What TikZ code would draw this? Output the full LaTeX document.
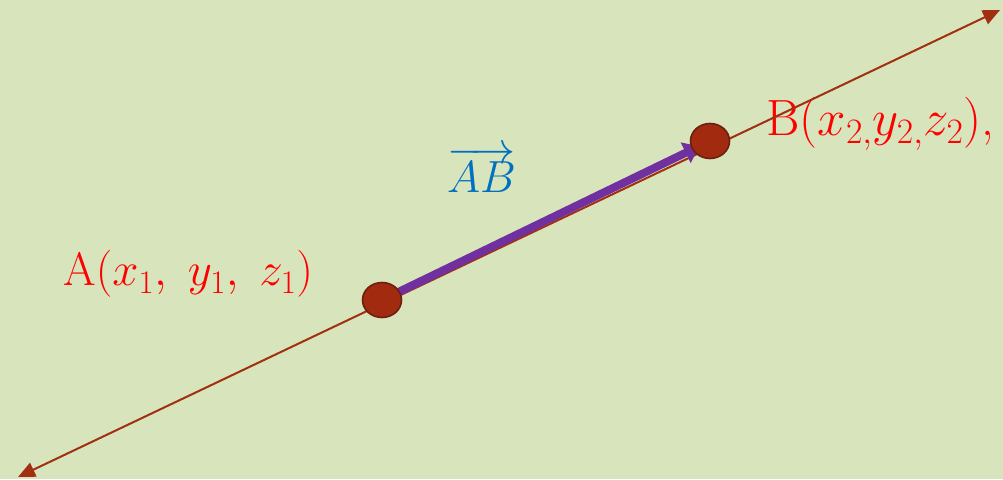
\RequirePackage{fix-cm}
\documentclass[tikz,border=0pt]{standalone}
\usetikzlibrary{arrows.meta,shapes.geometric}
\definecolor{bg}{HTML}{D8E4BC}
\definecolor{linered}{HTML}{A0300F}
\definecolor{dotfill}{HTML}{A22A0E}
\definecolor{dotedge}{HTML}{6B2010}
\definecolor{vecpurple}{HTML}{7030A0}
\definecolor{lblblue}{HTML}{0070C0}
\definecolor{lblred}{HTML}{FF0000}
\tikzset{
  dot/.style={ellipse, minimum width=39pt, minimum height=35pt, inner sep=0pt,
    fill=dotfill, draw=dotedge, line width=1.6pt},
  axisline/.style={draw=linered, line width=2pt,
    {Triangle[length=17pt,width=15pt]}-{Triangle[length=17pt,width=15pt]}},
  vecarrow/.style={draw=vecpurple, line width=8pt,
    -{Triangle[length=15pt,width=22pt]}, shorten >=12pt},
  ptlabel/.style={text=lblred, anchor=base west, inner sep=0pt, font=\fontsize{47}{52}\selectfont},
  veclabel/.style={text=lblblue, anchor=base west, inner sep=0pt, font=\fontsize{45}{50}\selectfont}
}
\begin{document}
\begin{tikzpicture}[x=1pt,y=1pt]
\fill[bg] (0,0) rectangle (1003,479);
\useasboundingbox (0,0) rectangle (1003,479);
% labels
\node[ptlabel] (la) at (63,193) {A$(x_1,\;y_1,\;z_1)$};
\node[ptlabel, font=\fontsize{51}{56}\selectfont] (lb) at (766,343) {B$(x_{2,}y_{2,}z_2)$,};
\node[veclabel] (lab) at (447,286) {$\overrightarrow{AB}$};
% line through the points
\coordinate (tail) at (18,2);
\coordinate (head) at (1000,469);
\draw[axisline] (tail) -- (head);
% vector
\coordinate (Ac) at (382,179);
\coordinate (Bc) at (710,338);
\draw[vecarrow] (Ac) -- (Bc);
% points
\node[dot] (A) at (Ac) {};
\node[dot] (B) at (Bc) {};
\end{tikzpicture}
\end{document}
